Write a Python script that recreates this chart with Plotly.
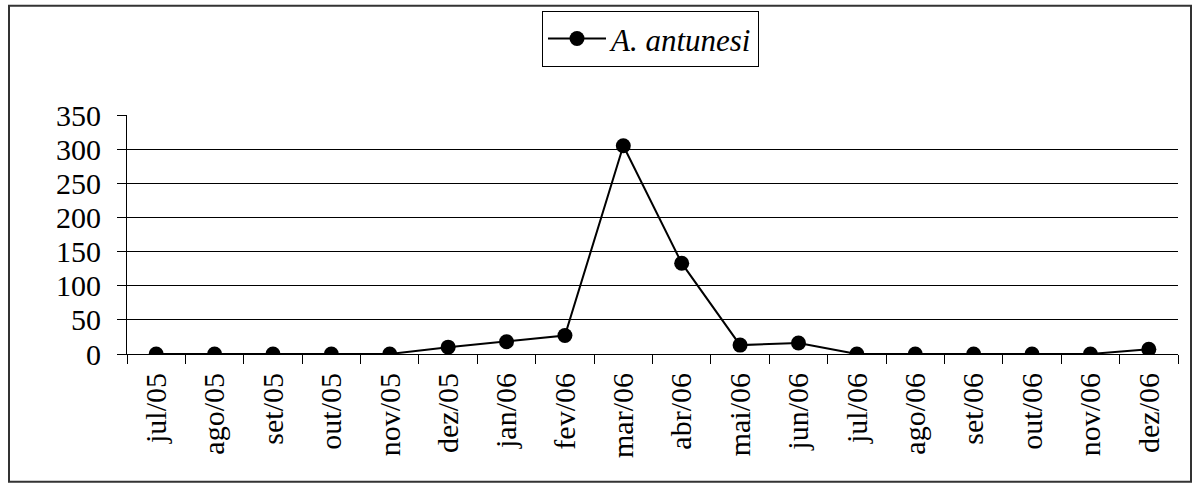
import plotly.graph_objects as go

months = ["jul/05", "ago/05", "set/05", "out/05", "nov/05", "dez/05", "jan/06", "fev/06",
          "mar/06", "abr/06", "mai/06", "jun/06", "jul/06", "ago/06", "set/06", "out/06",
          "nov/06", "dez/06"]
a_antunesi = [0, 0, 0, 0, 0, 10, 18, 27, 305, 133, 13, 16, 0, 0, 0, 0, 0, 7]
y_ticks = [0, 50, 100, 150, 200, 250, 300, 350]

FONT = "Liberation Serif, Times New Roman, serif"

fig = go.Figure()
fig.add_trace(go.Scatter(
    x=months, y=a_antunesi, mode="lines+markers",
    name="<i>A. antunesi</i>",
    line=dict(color="black", width=2),
    marker=dict(color="black", size=15),
))

L, R, T, B = 127, 15, 114, 131.5
W, H = 1193, 486
pw = W - L - R
ph = H - T - B

def px(x):
    return (x - L) / pw

def py(y):
    return (H - B - y) / ph

fig.update_layout(
    width=W, height=H,
    margin=dict(l=L, r=R, t=T, b=B, pad=0),
    paper_bgcolor="white", plot_bgcolor="white",
    font=dict(family=FONT, size=30, color="black"),
    showlegend=True,
    legend=dict(
        x=px(650.5), y=py(10.7), xanchor="center", yanchor="top",
        bordercolor="black", borderwidth=1, bgcolor="white",
        font=dict(family=FONT, size=31, color="black"),
        itemwidth=58,
    ),
    xaxis=dict(
        type="category", tickangle=-90, showgrid=False, range=[-0.5, 17.5],
        showline=True, linecolor="black", linewidth=1,
        ticks="outside", ticklen=9, tickcolor="black", tickson="boundaries",
        tickfont=dict(family=FONT, size=30, color="black"),
        ticklabelstandoff=6,
    ),
    yaxis=dict(
        range=[0, 350], tickvals=y_ticks, showgrid=True, gridcolor="black", gridwidth=1,
        showline=True, linecolor="black", linewidth=1, zeroline=False,
        ticks="outside", ticklen=9, tickcolor="black",
        tickfont=dict(family=FONT, size=30, color="black"),
        ticklabelstandoff=10,
    ),
    shapes=[dict(type="rect", xref="paper", yref="paper",
                 x0=px(9), x1=px(1191), y0=py(483), y1=py(4),
                 line=dict(color="#333333", width=2))],
)

fig.write_html("out.html")
